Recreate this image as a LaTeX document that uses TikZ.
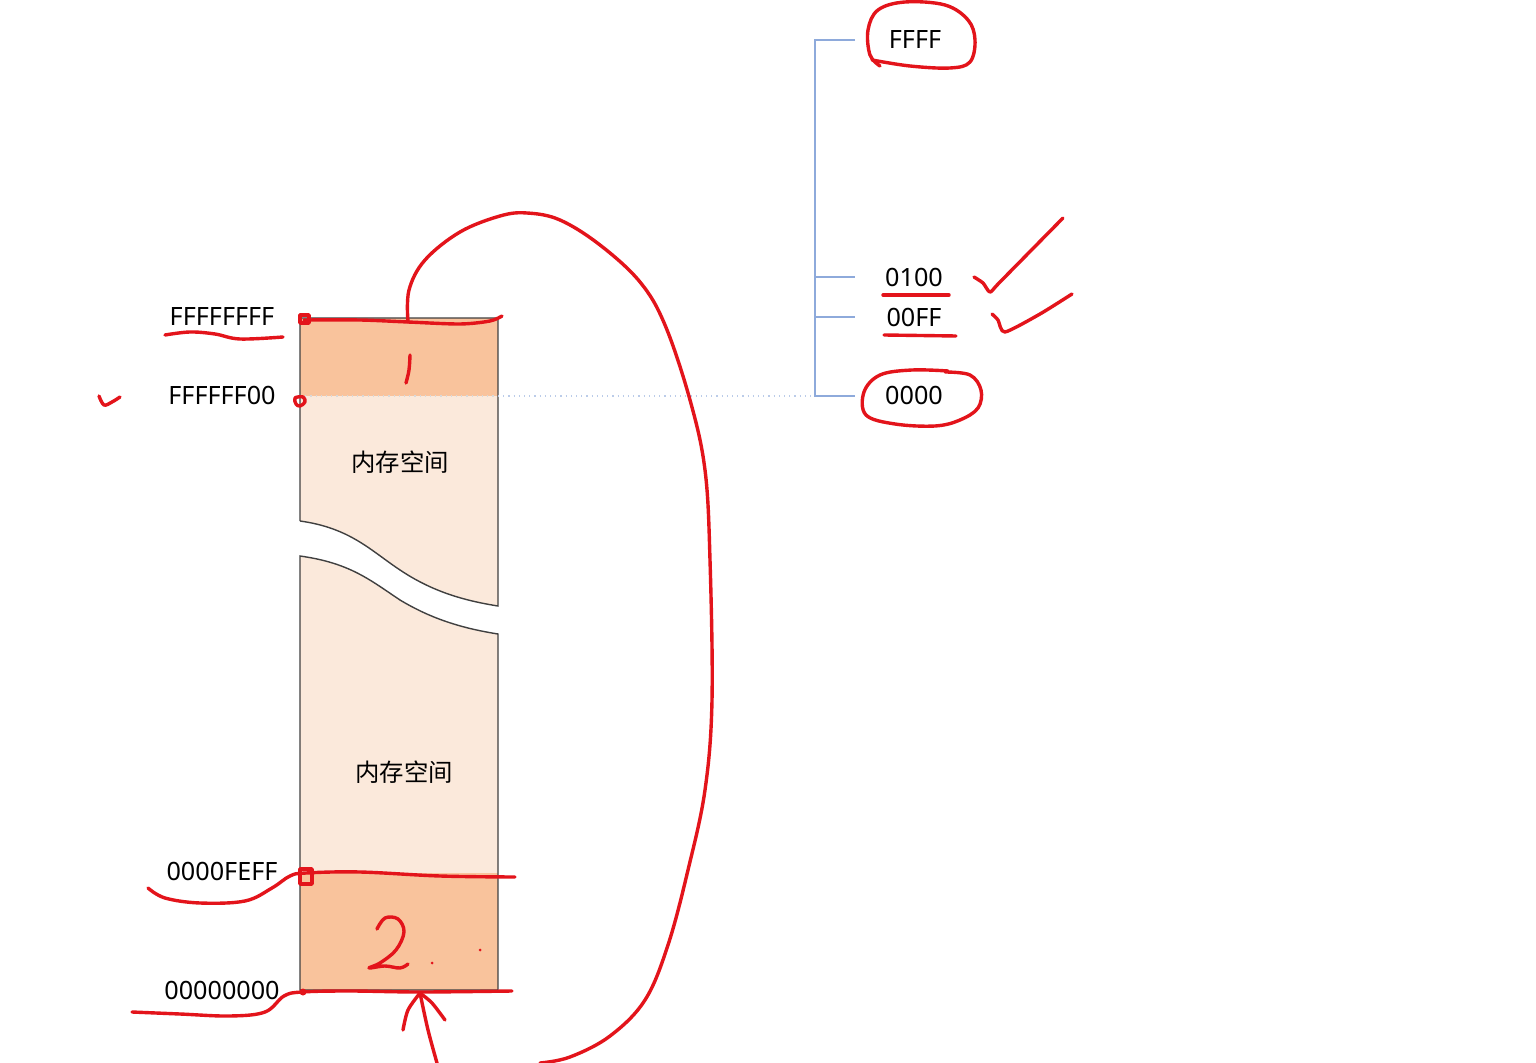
\documentclass[tikz,border=0pt]{standalone}
\usepackage{fontspec}
\setmainfont{Noto Sans}
\newfontfamily\cjk{Noto Sans CJK SC}
\definecolor{darkband}{HTML}{F9C39C}
\definecolor{lightband}{HTML}{FBE9DB}
\definecolor{pen}{HTML}{E3141B}
\definecolor{brk}{HTML}{8EAADB}
\begin{document}
\begin{tikzpicture}[x=0.5pt,y=-0.5pt,
  lbl/.style={font=\fontsize{12.6}{15}\selectfont, inner sep=0pt, text=black},
  zh/.style={font=\cjk\fontsize{12.2}{15}\selectfont, inner sep=0pt, text=black},
  border/.style={draw=black!75, line width=0.7pt},
  bracket/.style={draw=brk, line width=0.7pt},
  hand/.style={draw=pen, line width=1.7pt, line cap=round, line join=round}]
\useasboundingbox (0,0) rectangle (1536,1063);
\fill[white] (0,0) rectangle (1536,1063);
% memory column upper part
\fill[lightband] (300,396) -- (498,396) -- (498,606) .. controls (460,600) and (430,590) .. (400,570) .. controls (370,550) and (350,528) .. (300,521) -- cycle;
\fill[darkband] (300,318) rectangle (498,396);
\draw[border] (300,521) -- (300,318) -- (498,318) -- (498,606) .. controls (460,600) and (430,590) .. (400,570) .. controls (370,550) and (350,528) .. (300,521);
% lower part
\fill[lightband] (300,556) .. controls (350,563) and (370,580) .. (400,600) .. controls (430,618) and (460,628) .. (498,634) -- (498,873) -- (300,873) -- cycle;
\fill[darkband] (300,873) rectangle (498,990);
\draw[border] (300,556) .. controls (350,563) and (370,580) .. (400,600) .. controls (430,618) and (460,628) .. (498,634) -- (498,990) -- (300,990) -- cycle;
\draw[black!15, line width=0.6pt, dotted] (300,396) -- (498,396);
% labels
\node[lbl] (fffffff) at (222,317) {FFFFFFFF};
\node[lbl] (ffff00) at (222,395) {FFFFFF00};
\node[zh] (m1) at (400,462) {内存空间};
\node[zh] (m2) at (404,772) {内存空间};
\node[lbl] (feff) at (222,871) {0000FEFF};
\node[lbl] (zero) at (222,990) {00000000};
% right bracket
\node[lbl] (r1) at (915,40) {FFFF};
\node[lbl] (r2) at (914,277) {0100};
\node[lbl] (r3) at (914,317) {00FF};
\node[lbl] (r4) at (914,395) {0000};
\coordinate (bt) at (815,40);
\coordinate (bb) at (815,396);
\draw[bracket] (855,40) -- (bt) -- (bb) -- (855,396);
\draw[bracket] (815,277) -- (855,277);
\draw[bracket] (815,317) -- (855,317);
\coordinate (colright) at (498,396);
\draw[brk!60, line width=0.6pt, dotted] (colright) -- (815,396);
% handwritten red annotations
\draw[hand] plot[smooth, tension=0.6] coordinates {(165,335) (190,332) (215,334) (240,339) (283,337)};
\draw[hand] (300,315) rectangle (309,323);
\draw[hand] plot[smooth, tension=0.5] coordinates {(304,320) (360,320) (408,322) (460,324) (490,321) (502,316)};
\draw[hand] plot[smooth, tension=0.6] coordinates {(408,322) (409,290) (425,260) (460,232) (500,216) (527,213) (560,220) (600,245) (640,282) (665,325) (690,400) (705,470) (710,560) (712,700) (705,790) (688,870) (668,945) (645,1000) (610,1036) (570,1057) (540,1063)};
\draw[hand] plot[smooth, tension=0.6] coordinates {(410,355) (409,370) (406,383)};
\draw[hand] plot[smooth, tension=0.6] coordinates {(99,396) (104,405) (112,402) (120,397)};
\draw[hand] plot[smooth cycle, tension=0.6] coordinates {(295,398) (303,397) (305,402) (300,406) (296,404)};
\draw[hand] plot[smooth, tension=0.6] coordinates {(148,888) (165,898) (200,903) (245,901) (272,888) (290,876) (306,873) (360,872) (440,876) (515,877)};
\draw[hand] (300,869) rectangle (312,884);
\draw[hand] plot[smooth, tension=0.6] coordinates {(132,1012) (180,1014) (230,1016) (265,1012) (284,996) (302,992) (350,991) (420,992) (512,991)};
\fill[pen] (303,992) circle (3.5);
% the "2"
\draw[hand] plot[smooth, tension=0.6] coordinates {(377,929) (385,918) (398,919) (404,932) (396,950) (380,963) (369,968) (385,966) (400,968) (408,964)};
\fill[pen] (432,963) circle (1.5);
\fill[pen] (480,950) circle (1.5);
% arrow
\draw[hand] plot[smooth, tension=0.5] coordinates {(437,1063) (428,1030) (420,993)};
\draw[hand] plot[smooth, tension=0.5] coordinates {(403,1030) (408,1010) (420,993)};
\draw[hand] plot[smooth, tension=0.5] coordinates {(420,993) (432,1003) (445,1020)};
% ellipse around FFFF
\draw[hand] plot[smooth, tension=0.6] coordinates {(880,66) (870,55) (868,30) (878,10) (905,2) (945,5) (968,20) (975,40) (970,62) (950,68) (910,66) (872,60)};
% ellipse around 0000
\draw[hand] plot[smooth, tension=0.6] coordinates {(945,372) (970,375) (981,390) (978,408) (960,420) (935,426) (895,424) (866,415) (864,392) (880,375) (912,370) (948,371)};
% underlines
\draw[hand] (883,295) -- (949,295);
\draw[hand] (884,335) -- (956,336);
% checkmarks
\draw[hand] plot[smooth, tension=0.4] coordinates {(974,277) (983,283) (990,292) (1000,282) (1063,218)};
\draw[hand] plot[smooth, tension=0.4] coordinates {(992,314) (998,320) (1005,332) (1040,314) (1072,294)};
\end{tikzpicture}
\end{document}
